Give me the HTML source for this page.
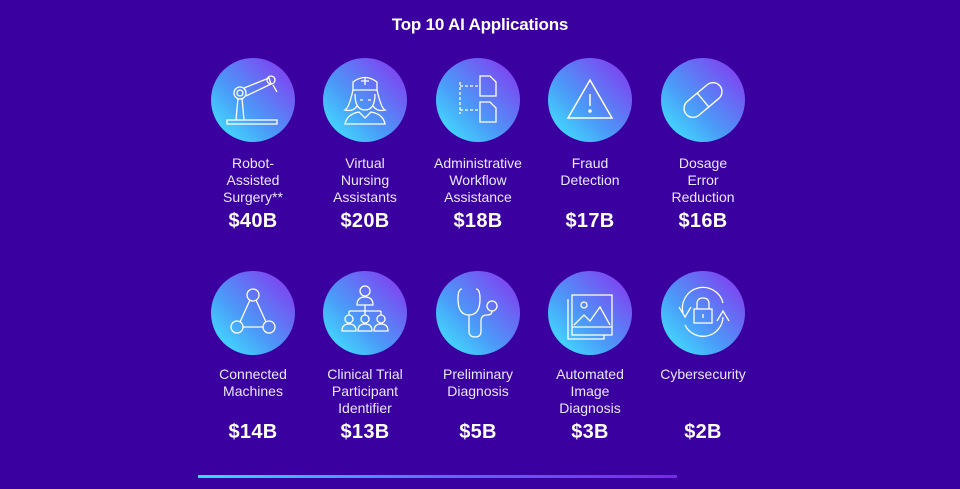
<!DOCTYPE html>
<html><head><meta charset="utf-8"><style>
html,body{margin:0;padding:0;}
body{width:960px;height:489px;background:#3b00a0;position:relative;overflow:hidden;font-family:"Liberation Sans",sans-serif;color:#fff;}
.t{position:absolute;left:0;width:960px;top:15px;text-align:center;font-weight:bold;font-size:17px;letter-spacing:-0.2px;}
.c{position:absolute;width:84px;height:84px;border-radius:50%;background:linear-gradient(45deg,#40f0ff 0%,#4a9cf8 40%,#8a30f0 100%);}
.c svg{position:absolute;left:0;top:0;}
.l{position:absolute;width:120px;text-align:center;font-size:14px;line-height:17px;color:#e8e8ff;}
.v{position:absolute;width:120px;text-align:center;font-size:20px;font-weight:bold;letter-spacing:0.3px;}
.bar{position:absolute;left:198px;top:475px;width:479px;height:3px;background:linear-gradient(90deg,#30e0ff,#5a70f8 50%,#7a28e8);}
</style></head><body>
<div class="t">Top 10 AI Applications</div>

<div class="c" style="left:211px;top:58px"><svg width="84" height="84" fill="none" stroke="#fff" stroke-width="1.3"><rect x="16" y="62" width="50" height="4"/><path d="M25 62 L27 40 M33 62 L31 40"/><circle cx="29" cy="35" r="6"/><circle cx="29" cy="35" r="3"/><path d="M33 30 L58 20 L60 26 L35 38"/><circle cx="60" cy="22" r="4"/><path d="M62 27 L66 34"/></svg></div>
<div class="c" style="left:323px;top:58px"><svg width="84" height="84" fill="none" stroke="#fff" stroke-width="1.3"><path d="M30 24 Q42 15 54 24 L54 32 L30 32Z"/><path d="M42 19 v8 M38 23 h8"/><path d="M30 32 Q26 50 22 52 Q30 54 34 48 M54 32 Q58 50 62 52 Q54 54 50 48"/><path d="M32 36 Q32 52 42 52 Q52 52 52 36"/><path d="M37 42 h3 M45 42 h3"/><path d="M22 66 Q24 56 36 54 L42 60 L48 54 Q60 56 62 66 Z"/></svg></div>
<div class="c" style="left:436px;top:58px"><svg width="84" height="84" fill="none" stroke="#fff" stroke-width="1.3"><path d="M24 24 v32 M24 28 h20 M24 52 h20" stroke-dasharray="3 2"/><path d="M44 18 h10 l6 6 v14 h-16z M44 44 h10 l6 6 v14 h-16z"/></svg></div>
<div class="c" style="left:548px;top:58px"><svg width="84" height="84" fill="none" stroke="#fff" stroke-width="1.5"><path d="M42 22 L64 60 H20 Z"/><path d="M42 36 v12"/><circle cx="42" cy="53" r="1" fill="#fff"/></svg></div>
<div class="c" style="left:661px;top:58px"><svg width="84" height="84" fill="none" stroke="#fff" stroke-width="1.4"><g transform="rotate(-40 42 42)"><rect x="20" y="33" width="44" height="18" rx="9"/><path d="M42 33 v18"/></g></svg></div>

<div class="l" style="left:193px;top:155px">Robot-<br>Assisted<br>Surgery**</div>
<div class="l" style="left:305px;top:155px">Virtual<br>Nursing<br>Assistants</div>
<div class="l" style="left:418px;top:155px">Administrative<br>Workflow<br>Assistance</div>
<div class="l" style="left:530px;top:155px">Fraud<br>Detection</div>
<div class="l" style="left:643px;top:155px">Dosage<br>Error<br>Reduction</div>
<div class="v" style="left:193px;top:210px">$40B</div>
<div class="v" style="left:305px;top:210px">$20B</div>
<div class="v" style="left:418px;top:210px">$18B</div>
<div class="v" style="left:530px;top:210px">$17B</div>
<div class="v" style="left:643px;top:210px">$16B</div>

<div class="c" style="left:211px;top:271px"><svg width="84" height="84" fill="none" stroke="#fff" stroke-width="1.3"><circle cx="42" cy="24" r="6"/><circle cx="26" cy="56" r="6"/><circle cx="58" cy="56" r="6"/><path d="M39 29 L29 51 M45 29 L55 51 M32 56 H52"/></svg></div>
<div class="c" style="left:323px;top:271px"><svg width="84" height="84" fill="none" stroke="#fff" stroke-width="1.3"><circle cx="42" cy="20" r="5"/><path d="M34 34 Q34 26 42 26 Q50 26 50 34 Z M42 34 v6 M26 40 h32 M26 40 v4 M42 40 v4 M58 40 v4"/><circle cx="26" cy="48" r="4"/><circle cx="42" cy="48" r="4"/><circle cx="58" cy="48" r="4"/><path d="M19 60 Q19 53 26 53 Q33 53 33 60Z M35 60 Q35 53 42 53 Q49 53 49 60Z M51 60 Q51 53 58 53 Q65 53 65 60Z"/></svg></div>
<div class="c" style="left:436px;top:271px"><svg width="84" height="84" fill="none" stroke="#fff" stroke-width="1.3"><path d="M26 18 Q22 18 22 28 Q22 44 33 44 Q44 44 44 28 Q44 18 40 18"/><path d="M33 44 V60 Q33 66 39 66 Q45 66 45 60 V50 Q45 44 51 44 Q56 44 56 40"/><circle cx="56" cy="35" r="5"/></svg></div>
<div class="c" style="left:548px;top:271px"><svg width="84" height="84" fill="none" stroke="#fff" stroke-width="1.3"><path d="M20 28 V68 H56 V64"/><rect x="24" y="24" width="40" height="40"/><path d="M24 56 H64"/><circle cx="36" cy="34" r="3"/><path d="M26 54 L36 44 L42 50 L52 36 L62 54"/></svg></div>
<div class="c" style="left:661px;top:271px"><svg width="84" height="84" fill="none" stroke="#fff" stroke-width="1.3"><path d="M22 42 A20 20 0 0 1 62 32"/><path d="M62 46 A20 20 0 0 1 24 54"/><path d="M18 36 L24 46 L30 36 M56 50 L62 40 L68 50"/><rect x="33" y="38" width="18" height="14"/><path d="M36 38 V33 Q36 27 42 27 Q48 27 48 33 V38 M42 43 v4"/></svg></div>

<div class="l" style="left:193px;top:366px">Connected<br>Machines</div>
<div class="l" style="left:305px;top:366px">Clinical Trial<br>Participant<br>Identifier</div>
<div class="l" style="left:418px;top:366px">Preliminary<br>Diagnosis</div>
<div class="l" style="left:530px;top:366px">Automated<br>Image<br>Diagnosis</div>
<div class="l" style="left:643px;top:366px">Cybersecurity</div>
<div class="v" style="left:193px;top:421px">$14B</div>
<div class="v" style="left:305px;top:421px">$13B</div>
<div class="v" style="left:418px;top:421px">$5B</div>
<div class="v" style="left:530px;top:421px">$3B</div>
<div class="v" style="left:643px;top:421px">$2B</div>

<div class="bar"></div>
</body></html>
